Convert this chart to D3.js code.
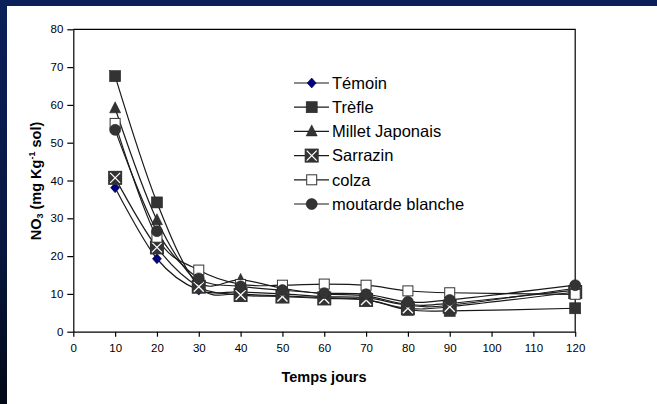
<!DOCTYPE html>
<html><head><meta charset="utf-8">
<script src="https://cdn.jsdelivr.net/npm/d3@7"></script>
<style>body{margin:0;background:#fff}svg{display:block}</style>
</head><body>
<svg id="c" width="657" height="404"></svg>
<script>
const days = [10, 20, 30, 40, 50, 60, 70, 80, 90, 120];
const xTicks = [0, 10, 20, 30, 40, 50, 60, 70, 80, 90, 100, 110, 120];
const yTicks = [0, 10, 20, 30, 40, 50, 60, 70, 80];
const seriesNames = ["Témoin", "Trèfle", "Millet Japonais", "Sarrazin", "colza", "moutarde blanche"];
const temoin   = [38.1, 19.3, 11.0, 10.5, 10.0, 9.3, 9.0, 7.0, 7.0, 11.5];
const trefle   = [67.6, 34.2, 12.0, 10.0, 9.5, 9.0, 8.5, 5.8, 5.5, 6.2];
const millet   = [59.1, 29.5, 13.0, 13.7, 11.5, 10.0, 9.5, 7.2, 7.5, 11.0];
const sarrazin = [40.7, 22.3, 11.9, 9.7, 9.3, 8.8, 8.4, 6.2, 6.6, 10.5];
const colza    = [55.1, 25.0, 16.3, 12.5, 12.3, 12.6, 12.3, 10.8, 10.3, 9.9];
const moutarde = [53.4, 26.6, 14.1, 12.0, 11.0, 10.2, 9.9, 7.9, 8.4, 12.3];
const seriesValues = [temoin, trefle, millet, sarrazin, colza, moutarde];
const markerTypes = ["diamond", "square", "triangle", "xbox", "open", "circle"];

const svg = d3.select("#c");
const W = 657, H = 404;
const defs = svg.append("defs");
const g = defs.append("linearGradient").attr("id","bg").attr("x1",0).attr("y1",0).attr("x2",0).attr("y2",1);
g.append("stop").attr("offset","0%").attr("stop-color","#0b205a");
g.append("stop").attr("offset","60%").attr("stop-color","#071740");
g.append("stop").attr("offset","100%").attr("stop-color","#020916");
svg.append("rect").attr("width",W).attr("height",H).attr("fill","url(#bg)");
svg.append("rect").attr("x",7).attr("y",6).attr("width",W-7).attr("height",H-6).attr("fill","#fff");

const x = d3.scaleLinear().domain([0,120]).range([73.3,575.2]);
const y = d3.scaleLinear().domain([0,80]).range([331.7,29.3]);

// frame top/right
svg.append("path").attr("d",`M${x(0)},${y(80)}H${x(120)}V${y(0)}`).attr("fill","none").attr("stroke","#000").attr("stroke-width",1.2);

const ya = svg.append("g").attr("transform",`translate(${x(0)},0)`)
  .call(d3.axisLeft(y).tickValues(yTicks).tickSize(6).tickSizeOuter(0).tickPadding(4));
const xa = svg.append("g").attr("transform",`translate(0,${y(0)})`)
  .call(d3.axisBottom(x).tickValues(xTicks).tickSize(5).tickSizeOuter(0).tickPadding(7));
[ya, xa].forEach(a => {
  a.selectAll("path,line").attr("stroke","#000").attr("stroke-width",1.2);
  a.selectAll("text").attr("font-family","Liberation Sans, Arial, sans-serif").attr("font-size","11.5px").attr("fill","#000");
});

const line = d3.line().x((d,i)=>x(days[i])).y(d=>y(d)).curve(d3.curveCardinal.tension(0));

function marker(sel, type, cx, cy, big) {
  const s = sel.append("g").attr("transform",`translate(${cx},${cy})`);
  if (type==="diamond") s.append("path").attr("d","M0,-5L4.5,0L0,5L-4.5,0Z").attr("fill","#000080").attr("stroke","#000040").attr("stroke-width",0.6);
  if (type==="square") s.append("rect").attr("x",-5.5).attr("y",-5.5).attr("width",11).attr("height",11).attr("fill","#333").attr("stroke","#222").attr("stroke-width",0.6);
  if (type==="triangle") s.append("path").attr("d","M0,-6.5L5.5,4.5L-5.5,4.5Z").attr("fill","#333").attr("stroke","#222").attr("stroke-width",0.6);
  if (type==="xbox") {
    s.append("rect").attr("x",-7).attr("y",-7).attr("width",14).attr("height",14).attr("fill","#333");
    s.append("path").attr("d","M-5,-5L5,5M5,-5L-5,5").attr("stroke","#fff").attr("stroke-width",1.3);
  }
  if (type==="open") s.append("rect").attr("x",-5).attr("y",-5).attr("width",10).attr("height",10).attr("fill","#fff").attr("stroke","#333").attr("stroke-width",1);
  if (type==="circle") s.append("circle").attr("r",5.5).attr("fill","#333").attr("stroke","#222").attr("stroke-width",0.6);
}

const plot = svg.append("g");
seriesValues.forEach((vals,k)=>{
  plot.append("path").attr("d",line(vals)).attr("fill","none").attr("stroke","#1a1a1a").attr("stroke-width",1.2);
});
seriesValues.forEach((vals,k)=>{
  vals.forEach((v,i)=>marker(plot, markerTypes[k], x(days[i]), y(v)));
});

// legend
const lg = svg.append("g");
seriesNames.forEach((n,k)=>{
  const ly = 83 + k*24.2;
  lg.append("line").attr("x1",294).attr("x2",329).attr("y1",ly).attr("y2",ly).attr("stroke","#1a1a1a").attr("stroke-width",1.2);
  marker(lg, markerTypes[k], 311.7, ly);
  lg.append("text").attr("x",332).attr("y",ly+5.8).text(n)
    .attr("font-family","Liberation Sans, Arial, sans-serif").attr("font-size","16.5px").attr("fill","#000");
});

// axis titles
svg.append("text").attr("x",324).attr("y",382).attr("text-anchor","middle")
  .attr("font-family","Liberation Sans, Arial, sans-serif").attr("font-size","14.5px").attr("font-weight","bold").text("Temps jours");
const yt = svg.append("text").attr("transform","translate(41,181) rotate(-90)").attr("text-anchor","middle")
  .attr("font-family","Liberation Sans, Arial, sans-serif").attr("font-size","14.5px").attr("font-weight","bold");
yt.append("tspan").text("NO");
yt.append("tspan").attr("font-size","9px").attr("dy",2).text("3");
yt.append("tspan").attr("dy",-2).text(" (mg Kg");
yt.append("tspan").attr("font-size","9px").attr("dy",-6).text("-1");
yt.append("tspan").attr("dy",6).text(" sol)");
</script>
</body></html>
